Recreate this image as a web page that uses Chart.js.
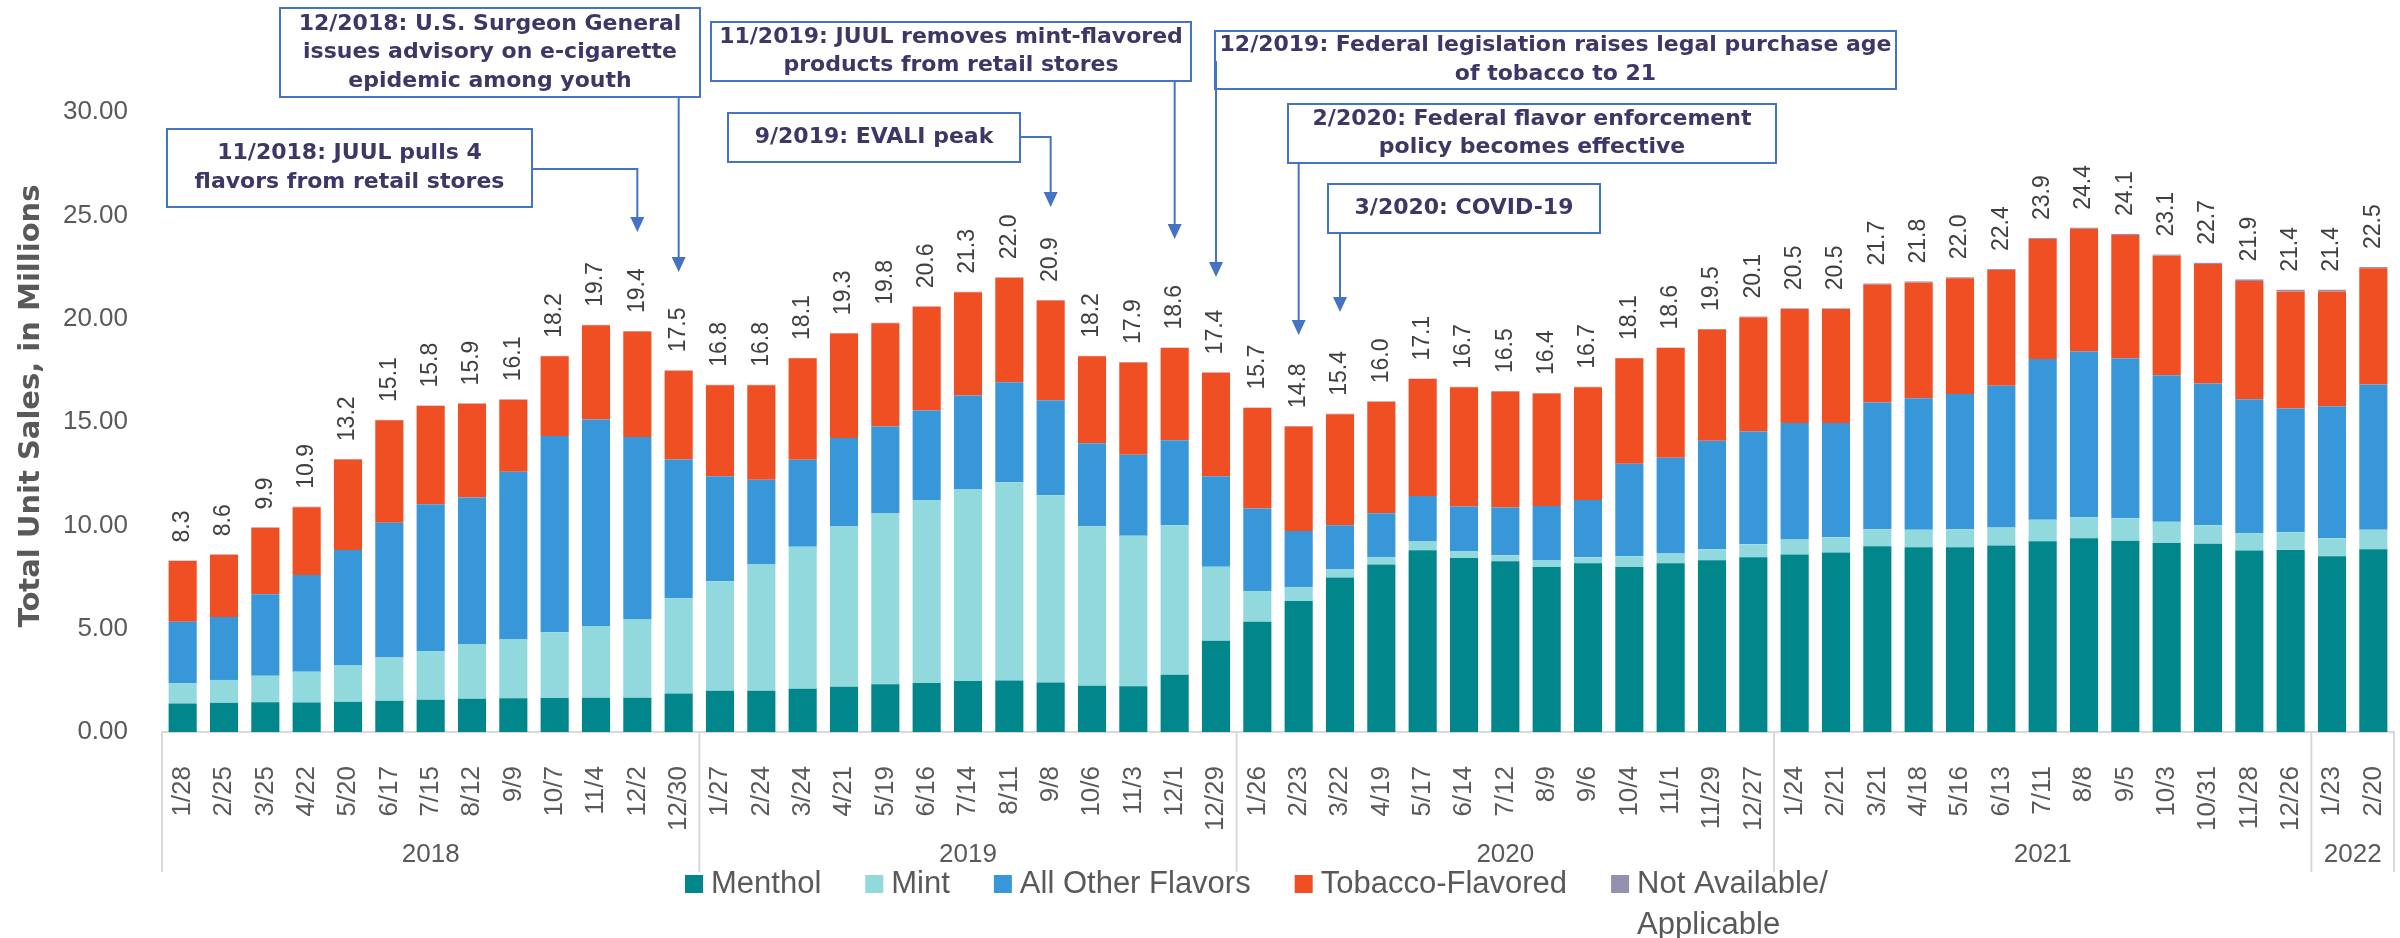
<!DOCTYPE html>
<html>
<head>
<meta charset="utf-8">
<title>E-cigarette unit sales by flavor, 2018-2022</title>
<script src="https://cdn.jsdelivr.net/npm/chart.js@4.4.1/dist/chart.umd.min.js"></script>
<style>
  html, body { margin: 0; padding: 0; background: #fff; }
  #chart { display: block; }
</style>
</head>
<body>
<canvas id="chart" width="2400" height="938"></canvas>
<script>
// ------------------------------------------------
// data (millions of units)
// ------------------------------------------------
const weeks = [
  "1/28", "2/25", "3/25", "4/22", "5/20", "6/17", "7/15", "8/12", "9/9", "10/7", "11/4", "12/2", "12/30",
  "1/27", "2/24", "3/24", "4/21", "5/19", "6/16", "7/14", "8/11", "9/8", "10/6", "11/3", "12/1", "12/29",
  "1/26", "2/23", "3/22", "4/19", "5/17", "6/14", "7/12", "8/9", "9/6", "10/4", "11/1", "11/29", "12/27",
  "1/24", "2/21", "3/21", "4/18", "5/16", "6/13", "7/11", "8/8", "9/5", "10/3", "10/31", "11/28", "12/26",
  "1/23", "2/20"
];
const years = ["2018", "2019", "2020", "2021", "2022"];
const weeksPerYear = [13, 13, 13, 13, 2];

const menthol = [
  1.38, 1.41, 1.44, 1.43, 1.46, 1.51, 1.56, 1.61, 1.63, 1.64, 1.66, 1.66, 1.86,
  1.99, 1.99, 2.09, 2.19, 2.31, 2.37, 2.47, 2.49, 2.39, 2.24, 2.21, 2.77, 4.41,
  5.33, 6.34, 7.48, 8.11, 8.80, 8.42, 8.26, 7.98, 8.16, 7.98, 8.16, 8.31, 8.45,
  8.59, 8.69, 8.99, 8.94, 8.94, 9.03, 9.23, 9.37, 9.26, 9.14, 9.11, 8.78, 8.81,
  8.50, 8.84
];
const mint = [
  0.99, 1.11, 1.28, 1.49, 1.78, 2.09, 2.36, 2.62, 2.85, 3.19, 3.47, 3.78, 4.61,
  5.31, 6.12, 6.87, 7.75, 8.29, 8.86, 9.29, 9.59, 9.06, 7.72, 7.28, 7.23, 3.59,
  1.49, 0.68, 0.40, 0.35, 0.42, 0.33, 0.29, 0.32, 0.29, 0.52, 0.48, 0.53, 0.63,
  0.73, 0.73, 0.82, 0.85, 0.87, 0.86, 1.04, 1.03, 1.08, 1.03, 0.89, 0.84, 0.85,
  0.87, 0.95
];
const otherFlavors = [
  2.96, 3.04, 3.95, 4.68, 5.57, 6.52, 7.10, 7.12, 8.11, 9.49, 9.99, 8.83, 6.72,
  5.08, 4.09, 4.21, 4.28, 4.18, 4.33, 4.52, 4.84, 4.60, 4.01, 3.93, 4.12, 4.38,
  4.00, 2.70, 2.12, 2.13, 2.20, 2.16, 2.31, 2.63, 2.78, 4.48, 4.63, 5.25, 5.46,
  5.63, 5.53, 6.13, 6.36, 6.55, 6.86, 7.78, 8.01, 7.75, 7.09, 6.86, 6.48, 5.99,
  6.39, 7.02
];
const tobacco = [
  2.95, 3.02, 3.21, 3.28, 4.37, 4.96, 4.76, 4.53, 3.49, 3.86, 4.56, 5.11, 4.29,
  4.40, 4.58, 4.91, 5.06, 5.00, 5.02, 5.00, 5.06, 4.83, 4.21, 4.46, 4.46, 5.00,
  4.86, 5.06, 5.38, 5.39, 5.66, 5.77, 5.62, 5.45, 5.45, 5.10, 5.31, 5.38, 5.53,
  5.52, 5.52, 5.71, 5.60, 5.59, 5.60, 5.80, 5.94, 5.96, 5.79, 5.78, 5.72, 5.67,
  5.56, 5.63
];
const notAvailable = [
  0.02, 0.02, 0.02, 0.02, 0.02, 0.02, 0.02, 0.02, 0.02, 0.02, 0.02, 0.02, 0.02,
  0.02, 0.02, 0.02, 0.02, 0.02, 0.02, 0.02, 0.02, 0.02, 0.02, 0.02, 0.02, 0.02,
  0.02, 0.02, 0.02, 0.02, 0.02, 0.02, 0.02, 0.02, 0.02, 0.02, 0.02, 0.03, 0.03,
  0.03, 0.03, 0.05, 0.05, 0.05, 0.05, 0.05, 0.05, 0.05, 0.05, 0.06, 0.08, 0.08,
  0.08, 0.06
];

// policy events, pointing at a week on the axis
const events = [
  { lines: ["11/2018: JUUL pulls 4", "flavors from retail stores"], week: 11,
    box: [167, 129, 365, 78], from: "right", elbowY: 169, tipY: 232 },
  { lines: ["12/2018: U.S. Surgeon General", "issues advisory on e-cigarette", "epidemic among youth"], week: 12,
    box: [280, 8, 420, 89], from: "below", startY: 97, tipY: 272 },
  { lines: ["9/2019: EVALI peak"], week: 21,
    box: [728, 113, 292, 49], from: "right", elbowY: 137, tipY: 207 },
  { lines: ["11/2019: JUUL removes mint-flavored", "products from retail stores"], week: 24,
    box: [711, 22, 480, 59], from: "below", startY: 81, tipY: 239 },
  { lines: ["12/2019: Federal legislation raises legal purchase age", "of tobacco to 21"], week: 25,
    box: [1215, 31, 681, 58], from: "below", startY: 61, tipY: 277 },
  { lines: ["2/2020: Federal flavor enforcement", "policy becomes effective"], week: 27,
    box: [1288, 104, 488, 59], from: "below", startY: 163, tipY: 335 },
  { lines: ["3/2020: COVID-19"], week: 28,
    box: [1328, 184, 272, 49], from: "below", startY: 233, tipY: 312 }
];

const GREY = "#595959";
const SANS = '"Liberation Sans", Arial, sans-serif';
const BOLD = '"DejaVu Sans", Verdana, sans-serif';

// -------------------------------
// stack totals above each bar
// -------------------------------
const totalsPlugin = {
  id: "stackTotals",
  afterDatasetsDraw(chart) {
    const { ctx, scales: { x, y } } = chart;
    ctx.save();
    ctx.font = "23px " + SANS;
    ctx.fillStyle = "#404040";
    ctx.textAlign = "left";
    ctx.textBaseline = "middle";
    weeks.forEach((w, i) => {
      const total = chart.data.datasets.reduce((s, ds) => s + ds.data[i], 0);
      ctx.save();
      ctx.translate(x.getPixelForValue(i), y.getPixelForValue(total) - 18);
      ctx.rotate(-Math.PI / 2);
      ctx.fillText(total.toFixed(1), 0, 0);
      ctx.restore();
    });
    ctx.restore();
  }
};

// -------------------------------
// year groups under the week axis
// -------------------------------
const yearsPlugin = {
  id: "yearGroups",
  afterDraw(chart) {
    const { ctx, scales: { x } } = chart;
    const edges = [x.left];
    let n = 0;
    weeksPerYear.forEach(c => {
      n += c;
      edges.push(n < weeks.length ? (x.getPixelForValue(n - 1) + x.getPixelForValue(n)) / 2 : x.right);
    });
    ctx.save();
    ctx.strokeStyle = "#d9d9d9";
    ctx.lineWidth = 2;
    edges.forEach(ex => {
      ctx.beginPath();
      ctx.moveTo(ex, x.top);
      ctx.lineTo(ex, x.top + 140);
      ctx.stroke();
    });
    ctx.font = "26px " + SANS;
    ctx.fillStyle = GREY;
    ctx.textAlign = "center";
    ctx.textBaseline = "middle";
    years.forEach((yr, k) => ctx.fillText(yr, (edges[k] + edges[k + 1]) / 2, x.top + 123));
    ctx.restore();
  }
};

// -------------------------------
// legend in one row, last item on two lines
// -------------------------------
const legendPlugin = {
  id: "rowLegend",
  afterDraw(chart) {
    const ctx = chart.ctx;
    const cy = 884;
    let lx = 685;
    ctx.save();
    ctx.font = "31px " + SANS;
    ctx.textAlign = "left";
    ctx.textBaseline = "middle";
    chart.data.datasets.forEach(ds => {
      const lines = ds.legendLines || [ds.label];
      ctx.fillStyle = ds.backgroundColor;
      ctx.fillRect(lx, cy - 9, 18, 18);
      ctx.fillStyle = GREY;
      let w = 0;
      lines.forEach((ln, k) => {
        ctx.fillText(ln, lx + 26, cy + k * 41);
        w = Math.max(w, ctx.measureText(ln).width);
      });
      lx += 26 + w + 44;
    });
    ctx.restore();
  }
};

// -------------------------------
// y title + event call-outs
// -------------------------------
const notesPlugin = {
  id: "eventNotes",
  afterDraw(chart) {
    const { ctx, scales: { x } } = chart;
    ctx.save();

    ctx.font = "bold 29px " + BOLD;
    ctx.fillStyle = GREY;
    ctx.textAlign = "center";
    ctx.textBaseline = "middle";
    ctx.translate(31, 406);
    ctx.rotate(-Math.PI / 2);
    ctx.fillText("Total Unit Sales, in Millions", 0, 0);
    ctx.setTransform(1, 0, 0, 1, 0, 0);

    events.forEach(ev => {
      const [bx, by, bw, bh] = ev.box;
      const ax = x.getPixelForValue(ev.week);

      ctx.fillStyle = "#fff";
      ctx.fillRect(bx, by, bw, bh);
      ctx.strokeStyle = "#4472c4";
      ctx.lineWidth = 2;
      ctx.strokeRect(bx, by, bw, bh);

      ctx.fillStyle = "#3d3768";
      ctx.font = "bold 22px " + BOLD;
      ctx.textAlign = "center";
      ctx.textBaseline = "middle";
      const mid = by + bh / 2;
      ev.lines.forEach((ln, k) => {
        ctx.fillText(ln, bx + bw / 2, mid + (k - (ev.lines.length - 1) / 2) * 28.5);
      });

      ctx.beginPath();
      if (ev.from === "right") {
        ctx.moveTo(bx + bw, ev.elbowY);
        ctx.lineTo(ax, ev.elbowY);
      } else {
        ctx.moveTo(ax, ev.startY);
      }
      ctx.lineTo(ax, ev.tipY - 12);
      ctx.stroke();

      ctx.fillStyle = "#4472c4";
      ctx.beginPath();
      ctx.moveTo(ax, ev.tipY);
      ctx.lineTo(ax - 7, ev.tipY - 15);
      ctx.lineTo(ax + 7, ev.tipY - 15);
      ctx.closePath();
      ctx.fill();
    });
    ctx.restore();
  }
};

Chart.defaults.font.family = SANS;
Chart.defaults.color = GREY;

new Chart(document.getElementById("chart"), {
  type: "bar",
  data: {
    labels: weeks,
    datasets: [
      { label: "Menthol", data: menthol, backgroundColor: "#00868b" },
      { label: "Mint", data: mint, backgroundColor: "#92d9de" },
      { label: "All Other Flavors", data: otherFlavors, backgroundColor: "#3897d9" },
      { label: "Tobacco-Flavored", data: tobacco, backgroundColor: "#f04f23" },
      { label: "Not Available/Applicable", legendLines: ["Not Available/", "Applicable"],
        data: notAvailable, backgroundColor: "#9490b0" }
    ]
  },
  options: {
    responsive: false,
    animation: false,
    devicePixelRatio: 1,
    layout: { padding: { left: 0, right: 6, top: 112, bottom: 86 } },
    datasets: { bar: { categoryPercentage: 1, barPercentage: 0.68, borderWidth: 0 } },
    plugins: { legend: { display: false }, tooltip: { enabled: false } },
    scales: {
      x: {
        stacked: true,
        grid: { display: false },
        border: { display: true, color: "#d9d9d9", width: 2 },
        ticks: { autoSkip: false, minRotation: 90, maxRotation: 90, padding: 26,
                 color: GREY, font: { size: 26, family: SANS } },
        afterFit(scale) { scale.height = 120; scale.paddingLeft = 0; scale.paddingRight = 0; }
      },
      y: {
        stacked: true,
        min: 0,
        max: 30,
        grid: { display: false },
        border: { display: false },
        ticks: { stepSize: 5, padding: 26, color: GREY, font: { size: 26, family: SANS },
                 callback: v => v.toFixed(2) },
        afterFit(scale) { scale.width = 162; scale.paddingTop = 0; scale.paddingBottom = 0; }
      }
    }
  },
  plugins: [totalsPlugin, yearsPlugin, legendPlugin, notesPlugin]
});
</script>
</body>
</html>
